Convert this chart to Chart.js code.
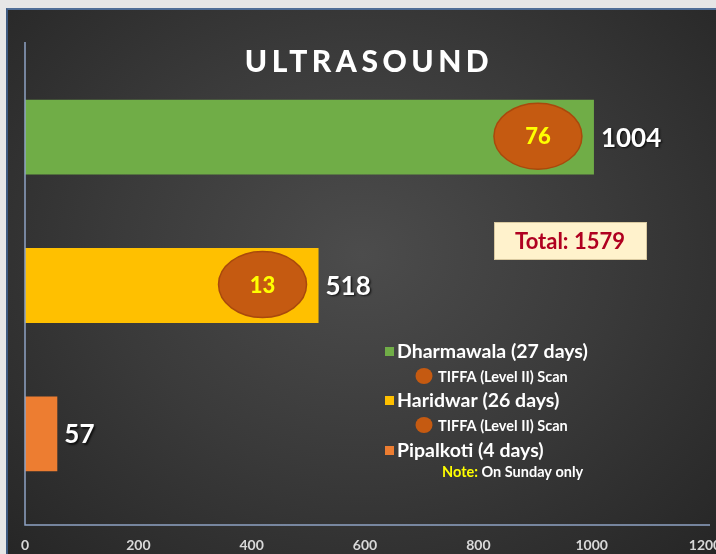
<!DOCTYPE html>
<html>
<head>
<meta charset="utf-8">
<script src="https://cdn.jsdelivr.net/npm/chart.js@4/dist/chart.umd.min.js"></script>
<style>
  html, body { margin: 0; padding: 0; width: 716px; height: 554px; overflow: hidden; background: #e6e6e6; }
  #panel { position: absolute; left: 6px; top: 8px; width: 710px; height: 546px;
    background: radial-gradient(ellipse at 50% 45%, #4c4c4c 0%, #3a3a3a 50%, #262626 100%);
    border-top: 2px solid #4f6d96; border-left: 2px solid #3e5a80; box-sizing: border-box; }
  #wrap { position: absolute; left: 0; top: 0; width: 740px; height: 554px; }
</style>
</head>
<body>
<div id="panel"></div>
<div id="wrap"><canvas id="c" width="740" height="554"></canvas></div>
<script>
const titleText = 'ULTRASOUND';
const categories = ['Dharmawala (27 days)', 'Haridwar (26 days)', 'Pipalkoti (4 days)'];
const ultrasoundCounts = [1004, 518, 57];
const tiffaScans = [76, 13, null];
const barColors = ['#70ad47', '#ffc000', '#ed7d31'];
const totalLabel = 'Total: 1579';
const xTicks = [0, 200, 400, 600, 800, 1000, 1200];
const tiffaLegend = 'TIFFA (Level II) Scan';
const noteLabel = 'Note:';
const noteText = 'On Sunday only';

const decor = {
  id: 'decor',
  afterDraw(chart) {
    const ctx = chart.ctx;
    const area = chart.chartArea;
    ctx.save();
    // axis lines
    ctx.strokeStyle = '#8ea3c4';
    ctx.lineWidth = 1.5;
    ctx.beginPath();
    ctx.moveTo(area.left, 42);
    ctx.lineTo(area.left, 525);
    ctx.lineTo(710, 525);
    ctx.stroke();

    // title
    ctx.fillStyle = '#ffffff';
    ctx.font = '900 30px Lato';
    ctx.textAlign = 'center';
    ctx.textBaseline = 'middle';
    try { ctx.letterSpacing = '4.5px'; } catch (e) {}
    ctx.fillText(titleText, 369, 62);
    try { ctx.letterSpacing = '0px'; } catch (e) {}

    // bars: ellipses and value labels
    const meta = chart.getDatasetMeta(0);
    meta.data.forEach((bar, i) => {
      const v = ultrasoundCounts[i];
      ctx.save();
      ctx.shadowColor = 'rgba(0,0,0,0.7)';
      ctx.shadowOffsetX = 1.5; ctx.shadowOffsetY = 1.5; ctx.shadowBlur = 2;
      ctx.fillStyle = '#ffffff';
      ctx.font = 'bold 26px Lato';
      ctx.textAlign = 'left';
      ctx.textBaseline = 'middle';
      ctx.fillText(String(v), bar.x + 7, bar.y + 1);
      ctx.restore();
      const t = tiffaScans[i];
      if (t !== null && t !== undefined) {
        const cx = bar.x - 56, cy = bar.y - 1;
        ctx.beginPath();
        ctx.ellipse(cx, cy, 44, 33, 0, 0, Math.PI * 2);
        ctx.fillStyle = '#c55a11';
        ctx.fill();
        ctx.lineWidth = 1.5;
        ctx.strokeStyle = '#a9490c';
        ctx.stroke();
        ctx.fillStyle = '#ffff00';
        ctx.font = '900 22px Lato';
        ctx.textAlign = 'center';
        ctx.textBaseline = 'middle';
        ctx.fillText(String(t), cx, cy + 1);
      }
    });

    // total box
    ctx.fillStyle = '#fff2cc';
    ctx.fillRect(494, 222, 153, 38);
    ctx.strokeStyle = '#d9c9a0';
    ctx.lineWidth = 1;
    ctx.strokeRect(494.5, 222.5, 152, 37);
    ctx.fillStyle = '#b00020';
    ctx.font = 'bold 22px Lato';
    ctx.textAlign = 'center';
    ctx.textBaseline = 'middle';
    ctx.fillText(totalLabel, 570, 242);

    // legend
    const rows = [352, 401, 451];
    ctx.textAlign = 'left';
    ctx.textBaseline = 'middle';
    categories.forEach((c, i) => {
      const y = rows[i];
      ctx.fillStyle = barColors[i];
      ctx.fillRect(385, y - 5, 9, 9);
      ctx.fillStyle = '#ffffff';
      ctx.font = 'bold 19.5px Lato';
      ctx.fillText(c, 397, y);
      if (tiffaScans[i] !== null) {
        const y2 = y + 24;
        ctx.beginPath();
        ctx.ellipse(424, y2, 8.5, 8, 0, 0, Math.PI * 2);
        ctx.fillStyle = '#c55a11';
        ctx.fill();
        ctx.fillStyle = '#ffffff';
        ctx.font = 'bold 14.5px Lato';
        ctx.fillText(tiffaLegend, 438, y2 + 1);
      }
    });
    ctx.font = 'bold 14.5px Lato';
    ctx.fillStyle = '#ffff00';
    ctx.fillText(noteLabel, 442, 472);
    const w = ctx.measureText(noteLabel + ' ').width;
    ctx.fillStyle = '#ffffff';
    ctx.fillText(noteText, 442 + w, 472);
    ctx.restore();
  }
};

new Chart(document.getElementById('c'), {
  type: 'bar',
  data: {
    labels: categories,
    datasets: [{
      data: ultrasoundCounts,
      backgroundColor: barColors,
      borderWidth: 0,
      barPercentage: 0.505,
      categoryPercentage: 1
    }]
  },
  options: {
    indexAxis: 'y',
    responsive: false,
    animation: false,
    layout: { padding: { left: 25, right: 35, top: 63, bottom: 0 } },
    plugins: { legend: { display: false }, tooltip: { enabled: false }, title: { display: false } },
    scales: {
      x: {
        min: 0, max: 1200,
        afterBuildTicks: (s) => { s.ticks = xTicks.map(v => ({ value: v })); },
        afterFit: (s) => { s.height = 46; s.paddingLeft = 4; s.paddingRight = 16; },
        grid: { display: false, drawTicks: false },
        border: { display: false },
        ticks: { color: '#d9d9d9', font: { family: 'Lato', weight: 'bold', size: 14 }, padding: 29, maxRotation: 0,
          callback: (v) => String(v) }
      },
      y: {
        afterFit: (s) => { s.width = 0; },
        grid: { display: false, drawTicks: false },
        border: { display: false },
        ticks: { display: false }
      }
    }
  },
  plugins: [decor]
});
</script>
</body>
</html>
